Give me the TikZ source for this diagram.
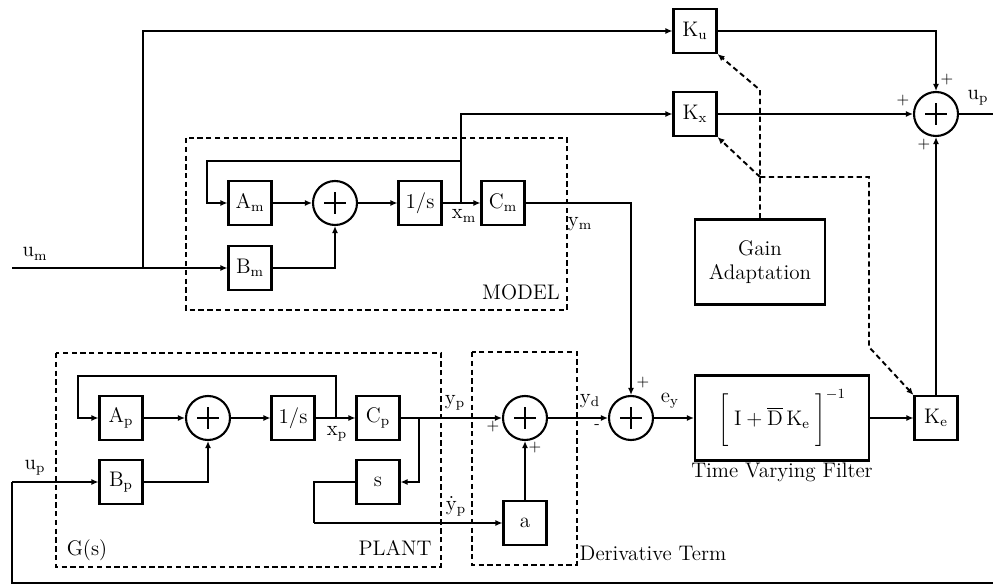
\documentclass[tikz,border=0pt]{standalone}
\usepackage{tikz}
\usetikzlibrary{arrows.meta,positioning,calc}
\tikzset{
  block/.style={draw, line width=1.2pt, minimum width=0.86cm, minimum height=0.88cm,
    inner sep=0pt, align=center, font=\large},
  sumnode/.style={draw, circle, line width=1.2pt, minimum size=0.88cm, inner sep=0pt,
    path picture={\draw[line width=1.4pt]
      ($(path picture bounding box.center)+(-0.22cm,0)$) -- ++(0.44cm,0)
      ($(path picture bounding box.center)+(0,-0.22cm)$) -- ++(0,0.44cm);}},
  wire/.style={line width=1pt, -{Latex[length=4pt,width=3.5pt]}},
  line/.style={line width=1pt},
  groupbox/.style={line width=1pt, dash pattern=on 3pt off 2pt},
  adapt/.style={line width=1.1pt, dash pattern=on 3pt off 2pt, -{Latex[length=4pt,width=3.5pt]}},
  lbl/.style={inner sep=1pt, font=\large},
  sign/.style={inner sep=0pt, font=\small}
}

\begin{document}
\begin{tikzpicture}[x=0.02cm,y=-0.02cm]
  \useasboundingbox (0,0) rectangle (993,587);

  % model
  \draw[groupbox] (186,138) rectangle (567,310);
  \node[block] (Am) at (250,203) {$\mathrm{A_m}$};
  \node[block] (Bm) at (250,268) {$\mathrm{B_m}$};
  \node[sumnode] (sm) at (335,203) {};
  \node[block] (Im) at (420,203) {1/s};
  \node[block] (Cm) at (503,203) {$\mathrm{C_m}$};
  \coordinate (xm) at (461,203);
  \coordinate (mfb) at (207,161);
  \node[lbl] (modeltxt) at (521,292) {MODEL};

  % gains and output summer
  \node[block] (Ku) at (695,31) {$\mathrm{K_u}$};
  \node[block] (Kx) at (695,114) {$\mathrm{K_x}$};
  \node[sumnode] (sr) at (936,114) {};
  \node[block, minimum width=2.6cm, minimum height=1.7cm] (gain) at (760,262) {Gain\\Adaptation};
  \coordinate (upout) at (993,114);

  % plant
  \draw[groupbox] (56,353) rectangle (441,567);
  \node[block] (Ap) at (121,418) {$\mathrm{A_p}$};
  \node[block] (Bp) at (121,482) {$\mathrm{B_p}$};
  \node[sumnode] (sp) at (208,418) {};
  \node[block] (Ip) at (293,418) {1/s};
  \node[block] (Cp) at (378,418) {$\mathrm{C_p}$};
  \node[block] (sblk) at (378,482) {s};
  \coordinate (xp) at (336,418);
  \coordinate (pfb) at (78,376);
  \coordinate (ytap) at (419,418);
  \coordinate (sloop) at (314,523);
  \node[lbl] (gstxt) at (87,550) {G(s)};
  \node[lbl] (planttxt) at (395,548) {PLANT};

  % derivative term, error and filter
  \draw[groupbox] (472,352) rectangle (577,565);
  \node[sumnode] (sd) at (525,418) {};
  \node[block] (ablk) at (525,523) {a};
  \node[lbl] (dertxt) at (653,553) {Derivative Term};
  \node[sumnode] (se) at (631,418) {};
  \node[block, minimum width=3.48cm, minimum height=1.7cm] (filt) at (782,418)
    {$\Biggl[\;\mathrm{I}+\overline{\mathrm{D}}\,\mathrm{K_e}\;\Biggr]^{\mathrm{-1}}$};
  \node[lbl] (filttxt) at (782,472) {Time Varying Filter};
  \node[block] (Ke) at (936,418) {$\mathrm{K_e}$};

  \coordinate (umin) at (12,268);
  \coordinate (umtap) at (143,268);
  \coordinate (upin) at (12,482);
  \coordinate (upbot) at (12,583);
  \coordinate (upend) at (993,583);
  \coordinate (gk1) at (760,90);
  \coordinate (gk2) at (760,177);
  \coordinate (gk3) at (869,177);
  \coordinate (gk4) at (869,347);

  % model wiring
  \draw[wire] (umin) -- (Bm);
  \draw[wire] (umtap) |- (Ku);
  \draw[wire] (Am) -- (sm);
  \draw[wire] (Bm) -| (sm);
  \draw[wire] (sm) -- (Im);
  \draw[wire] (Im) -- (Cm);
  \draw[wire] (xm) |- (mfb) |- (Am);
  \draw[wire] (xm) |- (Kx);
  \draw[wire] (Cm) -| (se);

  % output summer wiring
  \draw[wire] (Ku) -| (sr);
  \draw[wire] (Kx) -- (sr);
  \draw[wire] (Ke) -- (sr);
  \draw[line] (sr) -- (upout);

  % plant wiring
  \draw[line] (upend) -- (upbot) -- (upin);
  \draw[wire] (upin) -- (Bp);
  \draw[wire] (Ap) -- (sp);
  \draw[wire] (Bp) -| (sp);
  \draw[wire] (sp) -- (Ip);
  \draw[wire] (Ip) -- (Cp);
  \draw[wire] (xp) |- (pfb) |- (Ap);
  \draw[wire] (Cp) -- (sd);
  \draw[wire] (ytap) |- (sblk);
  \draw[line] (sblk) -| (sloop);
  \draw[wire] (sloop) -- (ablk);
  \draw[wire] (ablk) -- (sd);
  \draw[wire] (sd) -- (se);
  \draw[wire] (se) -- (filt);
  \draw[wire] (filt) -- (Ke);

  % adaptation paths
  \draw[adapt] (gain.north) -- (gk1) -- (Ku.south east);
  \draw[adapt] (gk2) -- (Kx.south east);
  \draw[adapt] (gk2) -- (gk3) -- (gk4) -- (Ke.north west);

  % signal names
  \node[lbl] (umtxt) at (35,254) {$\mathrm{u_m}$};
  \node[lbl] (xmtxt) at (464,216) {$\mathrm{x_m}$};
  \node[lbl] (ymtxt) at (580,224) {$\mathrm{y_m}$};
  \node[lbl] (uptxt) at (978,98) {$\mathrm{u_p}$};
  \node[lbl] (upintxt) at (35,468) {$\mathrm{u_p}$};
  \node[lbl] (xptxt) at (337,434) {$\mathrm{x_p}$};
  \node[lbl] (yptxt) at (455,403) {$\mathrm{y_p}$};
  \node[lbl] (ypdtxt) at (456,506) {$\mathrm{\dot y_p}$};
  \node[lbl] (ydtxt) at (590,401) {$\mathrm{y_d}$};
  \node[lbl] (eytxt) at (670,401) {$\mathrm{e_y}$};

  % signs
  \node[sign] (srtop) at (947,80) {+};
  \node[sign] (srleft) at (903,101) {+};
  \node[sign] (srbot) at (924,145) {+};
  \node[sign] (sdleft) at (493,427) {+};
  \node[sign] (sdbot) at (535,448) {+};
  \node[sign] (setop) at (643,383) {+};
  \node[sign] (seleft) at (597,427) {-};
\end{tikzpicture}
\end{document}
